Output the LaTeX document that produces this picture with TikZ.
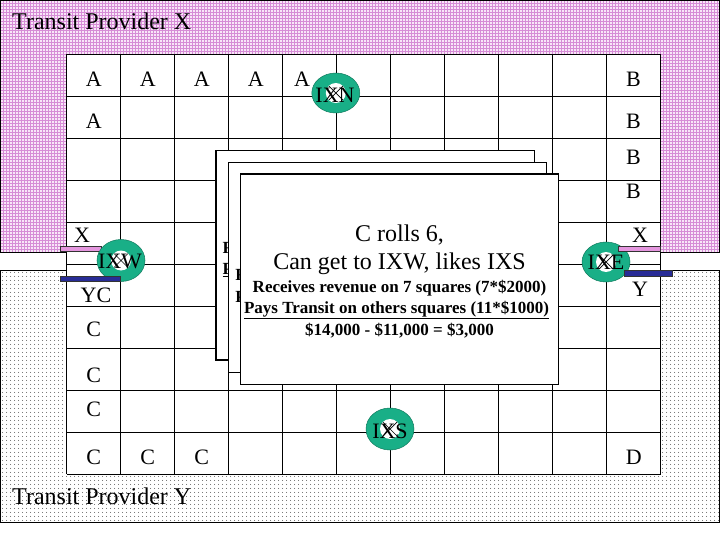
\documentclass[tikz,border=0pt]{standalone}
\usepackage{fontspec}
\setmainfont{Liberation Serif}
\usetikzlibrary{patterns,patterns.meta}
\definecolor{pinkline}{RGB}{214,140,214}
\definecolor{pinkbg}{RGB}{248,230,248}
\definecolor{ixteal}{RGB}{25,175,135}
\definecolor{barpink}{RGB}{228,150,222}
\definecolor{barnavy}{RGB}{40,44,150}
\tikzset{
  lbl/.style={font=\fontsize{22}{22}\selectfont, anchor=base, inner sep=0pt},
  ttl/.style={font=\fontsize{24}{24}\selectfont, anchor=base west, inner sep=0pt},
  cardbox/.style={draw=black, fill=white, line width=1.2pt},
  cardbig/.style={font=\fontsize{24}{24}\selectfont, anchor=base, inner sep=0pt},
  cardsmall/.style={font=\bfseries\fontsize{17}{17}\selectfont, anchor=base, inner sep=0pt},
  frag/.style={font=\bfseries\fontsize{17}{17}\selectfont, anchor=base west, inner sep=0pt},
  ixring/.style={fill=ixteal, draw=ixteal!70!black, line width=0.5pt},
  ixcross/.style={line width=0.7pt, black},
  barbox/.style={draw=black!80, line width=0.6pt},
  gridline/.style={line width=1.1pt, black},
  region/.style={line width=0.9pt, black},
}
\newcommand{\ixsym}[3]{%
  \fill[ixring] (#1,#2) ellipse [x radius=24, y radius=#3];
  \fill[white] (#1,#2) circle [radius=10];
  \draw[ixcross] (#1-7,#2-7) -- (#1+7,#2+7) (#1-7,#2+7) -- (#1+7,#2-7);
}
\begin{document}
\begin{tikzpicture}[x=1pt,y=-1pt]
\useasboundingbox (0,0) rectangle (720,540);
% Transit provider X region
\fill[pinkbg] (0,0) rectangle (720,252);
\fill[pattern=grid, pattern color=pinkline] (0,0) rectangle (720,252);
\draw[region] (0.5,0.5) rectangle (719.5,252);
% Transit provider Y region
\fill[white] (0,270) rectangle (720,522);
\fill[pattern={Dots[distance=4pt,radius=0.6pt]}, pattern color=black!70] (0,270) rectangle (720,522);
\draw[region] (0.5,270) rectangle (719.5,522);
\node[ttl] (tpx) at (12,30) {Transit Provider X};
\node[ttl] (tpy) at (12,504) {Transit Provider Y};
% board
\fill[white] (66.7,54.3) rectangle (660.7,474.3);
\foreach \i in {0,...,11} \draw[gridline] (66.7+54*\i,54.3) -- (66.7+54*\i,474.3);
\foreach \j in {0,...,10} \draw[gridline] (66.7,54.3+42*\j) -- (660.7,54.3+42*\j);
% labels
\node[lbl] (a1) at (93.7,87) {A};
\node[lbl] (a2) at (147.7,87) {A};
\node[lbl] (a3) at (201.7,87) {A};
\node[lbl] (a4) at (255.7,87) {A};
\node[lbl] (a5) at (302,87) {A};
\node[lbl] (a6) at (93.7,128.3) {A};
\node[lbl] (b1) at (633.5,87) {B};
\node[lbl] (b2) at (633.5,128.3) {B};
\node[lbl] (b3) at (633.5,164.5) {B};
\node[lbl] (b4) at (633.5,198.5) {B};
\node[lbl] (xl) at (82,242.7) {X};
\node[lbl] (yc) at (96,302) {YC};
\node[lbl] (c1) at (93.7,336) {C};
\node[lbl] (c2) at (93.7,382) {C};
\node[lbl] (c3) at (93.7,416.7) {C};
\node[lbl] (c4) at (93.7,464.5) {C};
\node[lbl] (c5) at (147.7,464.5) {C};
\node[lbl] (c6) at (201.7,464.5) {C};
\node[lbl] (d1) at (633.7,464.5) {D};
\node[lbl] (xr) at (640,242.7) {X};
\node[lbl] (yr) at (640,296.7) {Y};
% cards
\draw[cardbox] (216,150.7) rectangle (534.3,360);
\node[frag] (f1) at (222.3,253) {R};
\node[frag] (f2) at (222.3,274.5) {\underline{P}};
\draw[cardbox] (228.7,162.3) rectangle (546.7,372.3);
\node[frag] (f3) at (235.2,280) {R};
\node[frag] (f4) at (235.2,302) {P};
\draw[cardbox] (240.3,174) rectangle (558.7,384.3);
\node[cardbig] (t1) at (399.5,241) {C rolls 6,};
\node[cardbig] (t2) at (399.5,269.3) {Can get to IXW, likes IXS};
\node[cardsmall] (t3) at (399.5,292.7) {Receives revenue on 7 squares (7*\$2000)};
\node[cardsmall] (t4) at (396.5,313.5) {\underline{Pays Transit on others squares (11*\$1000)}};
\node[cardsmall] (t5) at (399.5,335) {\$14,000 - \$11,000 = \$3,000};
% left connection
\fill[barpink] (60,246.7) rectangle (101.7,251.7);
\draw[barbox] (60,246.7) rectangle (101.7,251.7);
\ixsym{121}{260.5}{21}
\node[lbl] (ixw) at (120,268) {IXW};
\fill[barnavy] (60,276.7) rectangle (120.7,281.7);
\draw[barbox] (60,276.7) rectangle (120.7,281.7);
% right connection
\ixsym{606}{262}{20}
\node[lbl] (ixe) at (606,269) {IXE};
\fill[barpink] (618.3,246.7) rectangle (660,251.7);
\draw[barbox] (618.3,246.7) rectangle (660,251.7);
\fill[barnavy] (624.3,270.3) rectangle (672.7,276);
\draw[barbox] (624.3,270.3) rectangle (672.7,276);
% north and south
\ixsym{335.8}{93}{20}
\node[lbl] (ixn) at (335,102.7) {IXN};
\ixsym{390}{429}{21}
\node[lbl] (ixs) at (390,438.3) {IXS};
\end{tikzpicture}
\end{document}
